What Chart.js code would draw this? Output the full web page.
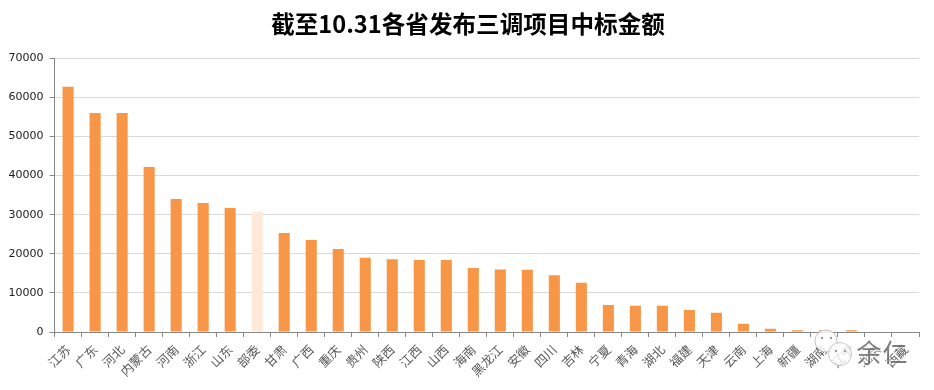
<!DOCTYPE html>
<html>
<head>
<meta charset="utf-8">
<style>
  html, body { margin: 0; padding: 0; background: #fff; }
  #wrap { width: 934px; height: 390px; }
</style>
<script src="https://cdn.jsdelivr.net/npm/chart.js@4"></script>
</head>
<body>
<div id="wrap"><canvas id="grafico" width="934" height="390"></canvas></div>
<script>
const titulo = '截至10.31各省发布三调项目中标金额';
const provincias = ['江苏', '广东', '河北', '内蒙古', '河南', '浙江', '山东', '部委', '甘肃', '广西', '重庆', '贵州', '陕西', '江西', '山西', '海南', '黑龙江', '安徽', '四川', '吉林', '宁夏', '青海', '湖北', '福建', '天津', '云南', '上海', '新疆', '湖南', '辽宁', '北京', '西藏'];
const importes = [62700, 56000, 56000, 42200, 34000, 33000, 31700, 30700, 25300, 23500, 21200, 19000, 18600, 18400, 18400, 16400, 16000, 15900, 14500, 12600, 6900, 6700, 6700, 5600, 4900, 2100, 800, 450, 450, 450, 0, 0];

const naranja = '#f79646';
const naranjaClaro = '#fde9d9';

// el titulo va centrado en todo el lienzo, no en el area con padding
const centrarTitulo = {
  id: 'centrarTitulo',
  afterLayout(c) { c.titleBlock.right = c.width + 2; }
};

// marca de agua de la captura, encima de las etiquetas
const marcaAgua = {
  id: 'marcaAgua',
  afterDraw(c) {
    const ctx = c.ctx;
    ctx.save();
    ctx.lineWidth = 1;
    ctx.strokeStyle = '#c4c4c4';
    ctx.fillStyle = 'rgba(255,255,255,0.8)';
    [[826, 341, 11], [840, 354, 11.5]].forEach(([x, y, r]) => {
      ctx.beginPath();
      ctx.arc(x, y, r, 0, Math.PI * 2);
      ctx.fill();
      ctx.stroke();
    });
    ctx.fillStyle = '#9a9a9a';
    [[822, 338], [831, 338], [836, 351], [845, 351]].forEach(([x, y]) => {
      ctx.beginPath();
      ctx.arc(x, y, 1.2, 0, Math.PI * 2);
      ctx.fill();
    });
    ctx.font = '25px "Noto Sans CJK SC"';
    ctx.textAlign = 'center';
    ctx.textBaseline = 'middle';
    ctx.lineWidth = 2.5;
    ctx.strokeStyle = 'rgba(255,255,255,0.6)';
    ctx.fillStyle = 'rgba(70,70,70,0.7)';
    [['余', 869], ['仁', 895]].forEach(([t, x]) => {
      ctx.strokeText(t, x, 352);
      ctx.fillText(t, x, 352);
    });
    ctx.restore();
  }
};

new Chart(document.getElementById('grafico').getContext('2d'), {
  type: 'bar',
  data: {
    labels: provincias,
    datasets: [{
      data: importes,
      // 部委 va en color claro
      backgroundColor: provincias.map(p => p === '部委' ? naranjaClaro : naranja),
      barPercentage: 0.41,
      categoryPercentage: 1
    }]
  },
  plugins: [centrarTitulo, marcaAgua],
  options: {
    responsive: false,
    animation: false,
    layout: { padding: { left: 0, right: 15, top: 0, bottom: 0 } },
    plugins: {
      legend: { display: false },
      tooltip: { enabled: false },
      title: {
        display: true,
        text: titulo,
        color: '#000',
        font: { family: '"Noto Sans CJK SC"', size: 23.6, weight: 'bold' },
        padding: { top: 10, bottom: 20 }
      }
    },
    scales: {
      x: {
        afterFit: s => { s.height = 58; },
        grid: { drawOnChartArea: false, color: '#868686', tickLength: 5, offset: true },
        border: { color: '#868686' },
        ticks: {
          color: '#595959',
          font: { family: '"Noto Sans CJK SC"', size: 12.5 },
          maxRotation: 45,
          minRotation: 45,
          autoSkip: false,
          padding: 5
        }
      },
      y: {
        min: 0,
        max: 70000,
        afterFit: s => { s.width = 54.6; },
        grid: { color: '#d9d9d9', tickColor: '#868686', tickLength: 5 },
        border: { color: '#868686' },
        ticks: {
          stepSize: 10000,
          color: '#1a1a1a',
          font: { family: '"DejaVu Sans"', size: 11 },
          padding: 6,
          callback: v => String(v)
        }
      }
    }
  }
});
</script>
</body>
</html>
